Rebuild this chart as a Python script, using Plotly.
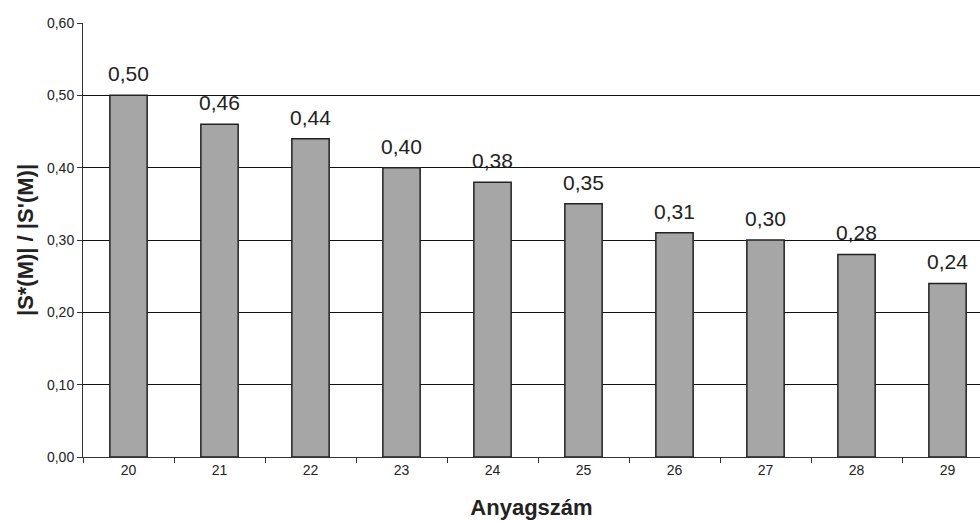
import plotly.graph_objects as go

categories = ["20", "21", "22", "23", "24", "25", "26", "27", "28", "29"]
values = [0.50, 0.46, 0.44, 0.40, 0.38, 0.35, 0.31, 0.30, 0.28, 0.24]
value_labels = ["0,50", "0,46", "0,44", "0,40", "0,38", "0,35", "0,31", "0,30", "0,28", "0,24"]
y_ticks = [0, 0.1, 0.2, 0.3, 0.4, 0.5, 0.6]
y_tick_labels = ["0,00", "0,10", "0,20", "0,30", "0,40", "0,50", "0,60"]

font = "Liberation Sans, Arial, sans-serif"

fig = go.Figure()
fig.add_trace(go.Bar(
    x=categories, y=values,
    marker=dict(color="#A6A6A6", line=dict(color="#222222", width=1.5)),
    width=0.41,
    hoverinfo="skip",
))

for i, (v, lab) in enumerate(zip(values, value_labels)):
    fig.add_annotation(
        x=i, y=v, xref="x", yref="y", text=lab, showarrow=False,
        yanchor="bottom", yshift=8,
        font=dict(family=font, size=21, color="#222222"),
    )

fig.update_layout(
    width=980, height=521,
    margin=dict(l=83, r=0, t=23, b=64),
    paper_bgcolor="white", plot_bgcolor="white",
    showlegend=False,
    font=dict(family=font, color="#222222"),
    xaxis=dict(
        type="category", range=[-0.5, 9.357], automargin=False,
        tickson="boundaries", ticks="outside", ticklen=5, tickcolor="#333333",
        showline=True, linecolor="#333333", linewidth=1,
        showgrid=False,
        tickfont=dict(size=14, family=font),
        title=dict(text="<b>Anyagszám</b>", font=dict(size=22, family=font), standoff=22),
    ),
    yaxis=dict(
        range=[0, 0.6], tickvals=y_ticks, ticktext=y_tick_labels, automargin=False,
        ticks="outside", ticklen=5, tickcolor="#333333",
        showline=True, linecolor="#333333", linewidth=1,
        showgrid=True, gridcolor="#111111", gridwidth=1,
        zeroline=False,
        tickfont=dict(size=14, family=font),
        title=dict(text="<b>|S*(M)| / |S'(M)|</b>", font=dict(size=22, family=font), standoff=7),
    ),
)

fig.write_html(
    "out.html",
    config={"displayModeBar": False},
    post_script="document.body.style.margin='0';document.body.style.overflow='hidden';",
)
